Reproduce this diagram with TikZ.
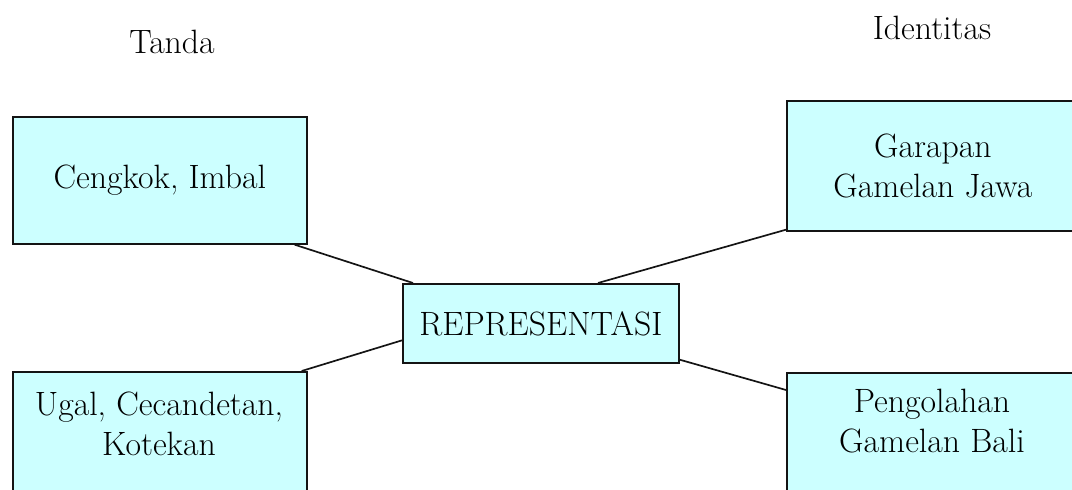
\documentclass[tikz,border=0pt]{standalone}
\usepackage{xcolor}
\usepackage{tikz}
\usetikzlibrary{positioning, calc}
\definecolor{boxcolor}{RGB}{204, 255, 255}
\definecolor{linecolor}{RGB}{20, 20, 20}

\begin{document}
\begin{tikzpicture}[
    x=0.025cm, y=-0.025cm,
    concept/.style={draw=linecolor, line width=1.2pt, fill=boxcolor, inner sep=0pt, font=\fontsize{24}{28.5}\selectfont, align=center},
    boxtext/.style={font=\fontsize{24}{28.5}\selectfont, align=center, inner sep=0pt},
    heading/.style={font=\fontsize{24}{28.5}\selectfont},
    link/.style={draw=linecolor, line width=1.2pt}
]
    \useasboundingbox (0,0) rectangle (1072,490);

    % Headings
    \node[heading] (tanda) at (172, 42) {Tanda};
    \node[heading] (identitas) at (932, 28) {Identitas};

    % Tanda side
    \node[concept, minimum width=294*0.025cm, minimum height=127*0.025cm, anchor=north west] (cengkok) at (12, 116) {Cengkok, Imbal};
    \node[concept, minimum width=294*0.025cm, minimum height=150*0.025cm, anchor=north west] (ugal) at (12, 371) {};
    \node[boxtext] (ugaltext) at (159, 424) {Ugal, Cecandetan,\\Kotekan};

    % Centre
    \node[concept, minimum width=276*0.025cm, minimum height=79*0.025cm, anchor=north west] (rep) at (402, 283) {REPRESENTASI};

    % Identitas side
    \node[concept, minimum width=292*0.025cm, minimum height=130*0.025cm, anchor=north west] (garapan) at (786, 100) {Garapan\\Gamelan Jawa};
    \node[concept, minimum width=292*0.025cm, minimum height=150*0.025cm, anchor=north west] (pengolahan) at (786, 372) {};
    \node[boxtext] (pengolahantext) at (932, 421) {Pengolahan\\Gamelan Bali};

    % Links
    \draw[link] ($(cengkok.south east)+(-13,0)$) -- ($(rep.north west)+(11,0)$);
    \draw[link] ($(garapan.south west)+(0,-2)$) -- ($(rep.north west)+(196,0)$);
    \draw[link] ($(rep.west)+(0,17)$) -- ($(ugal.north east)+(-6,0)$);
    \draw[link] ($(rep.south east)+(0,-4)$) -- ($(pengolahan.north west)+(0,18)$);

\end{tikzpicture}
\end{document}
